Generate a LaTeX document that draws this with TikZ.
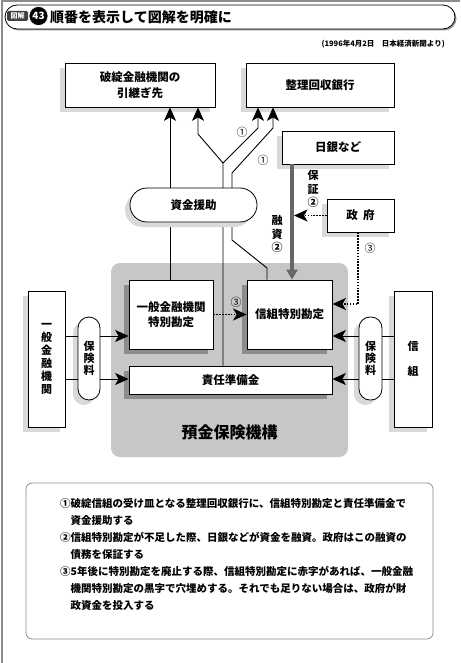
\documentclass[tikz,border=0pt]{standalone}
\usepackage{fontspec}
\setmainfont{Noto Sans CJK JP}
\usetikzlibrary{arrows.meta,shadows}

\pgfdeclarelayer{fondo}
\pgfdeclarelayer{sopra}
\pgfsetlayers{fondo,main,sopra}

\begin{document}
\begin{tikzpicture}[x=1pt, y=-1pt,
		% Stile base dei riquadri: bordo nero, fondo bianco, testo in grassetto
		box style/.style={draw=black, line width=0.8pt, fill=white, inner sep=2pt, align=center, font=\fontsize{11.5}{15.5}\selectfont\bfseries},
		% Ombre: chiara fuori dal riquadro grigio, scura dentro
		light shadow/.style={drop shadow={shadow xshift=-5pt, shadow yshift=-5pt, fill=black!15, opacity=1}},
		dark shadow/.style={drop shadow={shadow xshift=-5pt, shadow yshift=-5pt, fill=black!45, opacity=1}},
		% Testo verticale (un carattere per riga)
		vert style/.style={align=center, inner sep=0pt, font=\fontsize{11}{13.5}\selectfont\bfseries},
		% Numeri cerchiati
		num style/.style={inner sep=0pt, font=\fontsize{11}{11}\selectfont},
		% Punta di freccia nera
		tip style/.tip={Stealth[length=13.5pt, width=12pt, inset=3.5pt]},
		% Stile per le linee (archi)
		edge style/.style={line width=0.9pt, color=black},
		flow style/.style={edge style, -tip style},
		dot style/.style={line width=1.8pt, dash pattern=on 1.6pt off 1.3pt, -tip style},
		loan style/.style={line width=4pt, draw=black!60, -{Triangle[length=10pt, width=11pt, fill=black!55]}}
	]

	\useasboundingbox (0,0) rectangle (460,663);

	% =================================
	% CORNICE E TITOLO
	% =================================
	\draw[black!45, line width=1.2pt] (2,663) -- (2,1) -- (460,1);
	\node[draw, line width=0.8pt, fill=white, rounded corners=12pt, minimum width=450pt, minimum height=24pt,
		drop shadow={shadow xshift=1.5pt, shadow yshift=-1.5pt, fill=black!40, opacity=1}] (testata) at (230,17) {};
	\node[fill=black!75, rounded corners=1.5pt, text=white, inner sep=1pt, minimum width=21pt, minimum height=10pt,
		font=\fontsize{7}{7}\selectfont\bfseries] (tag) at (17.5,16) {図解};
	\node[circle, fill=black, draw=white, line width=0.6pt, minimum size=19pt, inner sep=0pt, text=white,
		font=\fontsize{10}{10}\selectfont\bfseries] (numero) at (38.5,16) {43};
	\node[anchor=west, inner sep=0pt, font=\fontsize{14}{14}\selectfont\bfseries] (titolo) at (50,17) {順番を表示して図解を明確に};
	\node[anchor=east, inner sep=0pt, font=\fontsize{7.5}{7.5}\selectfont\bfseries] (fonte) at (445,44) {(1996年4月2日\hspace{1em}日本経済新聞より)};

	% =================================
	% LIVELLO 1 (In alto)
	% =================================
	\node[box style, light shadow, minimum width=150pt, minimum height=44pt] (hikitsugi) at (140,85) {破綻金融機関の\\引継ぎ先};
	\node[box style, light shadow, minimum width=148pt, minimum height=44pt] (seiri) at (320,85) {整理回収銀行};

	% =================================
	% LIVELLO 2 (Intermedio)
	% =================================
	\node[box style, light shadow, minimum width=112pt, minimum height=33pt] (nichigin) at (338,147.5) {日銀など};
	\node[box style, light shadow, minimum width=67pt, minimum height=33pt] (seifu) at (360.5,215.5) {政\hspace{0.45em}府};
	% il riquadro 資金援助 sta sopra le linee che lo attraversano
	\begin{pgfonlayer}{sopra}
		\node[box style, light shadow, rounded corners=17pt, minimum width=127pt, minimum height=34pt] (shikin) at (193.5,205) {資金援助};
	\end{pgfonlayer}

	% =================================
	% LIVELLO 3 (預金保険機構)
	% =================================
	\begin{pgfonlayer}{fondo}
		\node[fill=black!22, rounded corners=9pt, minimum width=237pt, minimum height=194pt] (kiko) at (229.5,360) {};
	\end{pgfonlayer}
	\node[inner sep=0pt, font=\fontsize{16}{16}\selectfont\bfseries] (kikotesto) at (229.5,432) {預金保険機構};

	\node[box style, dark shadow, minimum width=84pt, minimum height=69pt] (ippantoku) at (171,314.5) {一般金融機関\\特別勘定};
	\node[box style, dark shadow, minimum width=85pt, minimum height=69pt] (shinkumitoku) at (289.5,314.5) {信組特別勘定};
	\node[box style, dark shadow, minimum width=203pt, minimum height=28pt] (sekinin) at (230.5,380) {責任準備金};

	% Ai lati: istituti e premi assicurativi
	\node[box style, light shadow, minimum width=37pt, minimum height=136pt, font=\fontsize{11}{13}\selectfont\bfseries] (ippan) at (46.5,359) {一\\般\\金\\融\\機\\関};
	\node[box style, light shadow, rounded corners=11pt, minimum width=22pt, minimum height=83pt, font=\fontsize{11}{12}\selectfont\bfseries] (hokensx) at (89,358.5) {保\\険\\料};
	\node[box style, light shadow, minimum width=38pt, minimum height=136pt, font=\fontsize{11}{13.5}\selectfont\bfseries] (shinkumi) at (413,359) {信\\[11pt]組};
	\node[box style, light shadow, rounded corners=11pt, minimum width=23pt, minimum height=83pt, font=\fontsize{11}{12}\selectfont\bfseries] (hokendx) at (370.5,358.5) {保\\険\\料};

	% Etichette
	\node[num style] (uno a) at (242,132) {①};
	\node[num style] (uno b) at (263,160) {①};
	\node[num style] (tre a) at (370,248) {③};
	\node[num style] (tre b) at (236,302) {③};
	\node[vert style] (hosho) at (313,189) {保\\証\\②};
	\node[vert style] (yushi) at (277,234) {融\\資\\②};

	% =================================
	% CONNESSIONI (Archi)
	% =================================
	\coordinate (xa) at (170,0);
	\coordinate (ysplit) at (223,163);
	\coordinate (kneesx) at (198,134);
	\coordinate (kneedx) at (258,128);
	\coordinate (b1) at (267,268);
	\coordinate (b2) at (232,240);
	\coordinate (b3) at (232,173);
	\coordinate (b4) at (273,128);
	\coordinate (xl) at (292,0);
	\coordinate (gov) at (358,304);
	\coordinate (alto) at (0,336);
	\coordinate (basso) at (0,379);

	% Verso 破綻金融機関の引継ぎ先 e 整理回収銀行
	\draw[flow style] (ippantoku.north -| xa) -- (xa |- hikitsugi.south);
	\draw[flow style] (sekinin.north -| ysplit) -- (ysplit) -- (kneesx) -- (kneesx |- hikitsugi.south);
	\draw[flow style] (ysplit) -- (kneedx) -- (kneedx |- seiri.south);
	\draw[flow style] (shinkumitoku.north -| b1) -- (b1) -- (b2) -- (b3) -- (b4) -- (b4 |- seiri.south);

	% Prestito e garanzia
	\draw[loan style] (nichigin.south -| xl) -- (xl |- shinkumitoku.north);
	\draw[dot style, shorten >=2pt] (seifu.west) -- (seifu.west -| xl);
	\draw[dot style] (seifu.south -| gov) -- (gov) -- (gov -| shinkumitoku.east);
	\draw[dot style] (ippantoku.east) -- (shinkumitoku.west);

	% Premi assicurativi
	\draw[edge style] (ippan.east |- alto) -- (hokensx.west |- alto);
	\draw[edge style] (ippan.east |- basso) -- (hokensx.west |- basso);
	\draw[flow style] (hokensx.east |- alto) -- (ippantoku.west |- alto);
	\draw[flow style] (hokensx.east |- basso) -- (sekinin.west |- basso);
	\draw[edge style] (shinkumi.west |- alto) -- (hokendx.east |- alto);
	\draw[edge style] (shinkumi.west |- basso) -- (hokendx.east |- basso);
	\draw[flow style] (hokendx.west |- alto) -- (shinkumitoku.east |- alto);
	\draw[flow style] (hokendx.west |- basso) -- (sekinin.east |- basso);

	% =================================
	% NOTE (In basso)
	% =================================
	\node[draw=black!45, line width=0.8pt, rounded corners=6pt, minimum width=407pt, minimum height=156pt] (nota) at (229.5,561) {};
	\node[anchor=north west, align=left, inner sep=0pt, font=\fontsize{10.5}{17}\selectfont\bfseries] (notatesto) at (60,498) {%
		①破綻信組の受け皿となる整理回収銀行に、信組特別勘定と責任準備金で\\
		\hspace*{1em}資金援助する\\
		②信組特別勘定が不足した際、日銀などが資金を融資。政府はこの融資の\\
		\hspace*{1em}債務を保証する\\
		③5年後に特別勘定を廃止する際、信組特別勘定に赤字があれば、一般金融\\
		\hspace*{1em}機関特別勘定の黒字で穴埋めする。それでも足りない場合は、政府が財\\
		\hspace*{1em}政資金を投入する};

\end{tikzpicture}
\end{document}
